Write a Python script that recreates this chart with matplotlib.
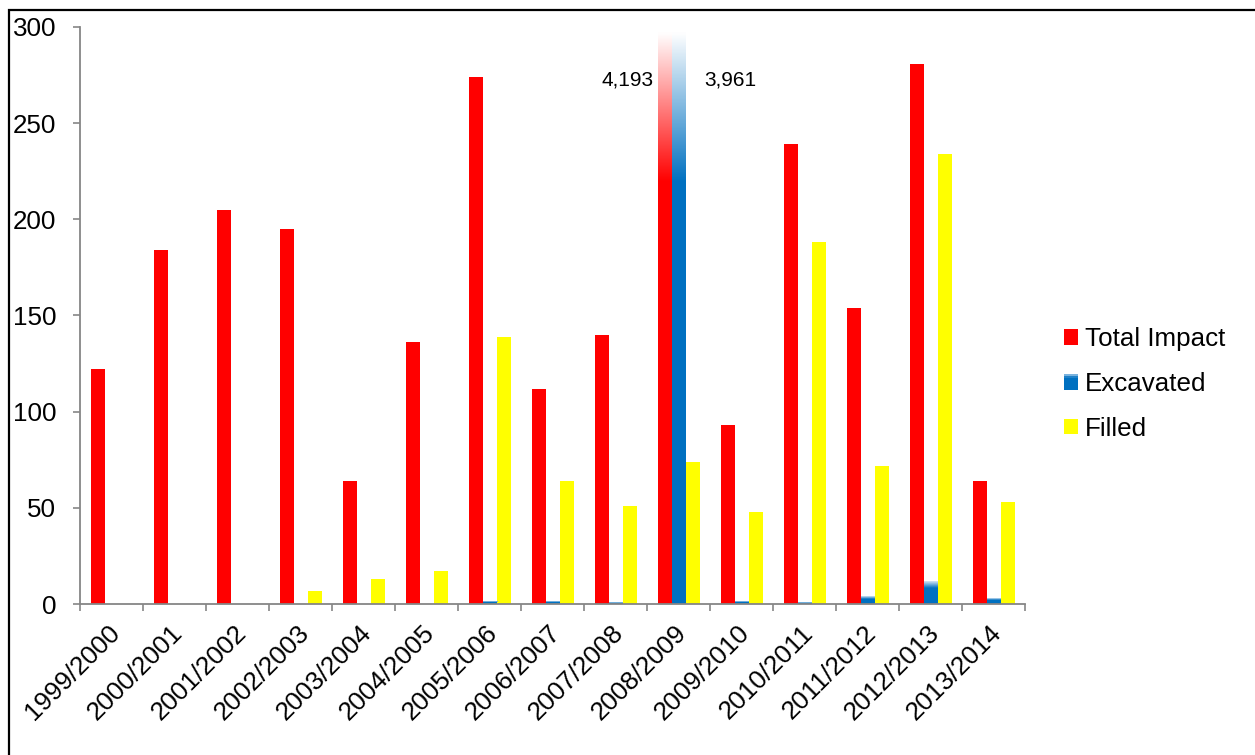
import numpy as np
import matplotlib
matplotlib.use('Agg')
import matplotlib.pyplot as plt
from matplotlib.patches import Rectangle, Patch
from matplotlib.legend_handler import HandlerBase
from matplotlib.colors import to_rgb

# data
categories = ['1999/2000', '2000/2001', '2001/2002', '2002/2003', '2003/2004',
              '2004/2005', '2005/2006', '2006/2007', '2007/2008', '2008/2009',
              '2009/2010', '2010/2011', '2011/2012', '2012/2013', '2013/2014']
total_impact = [122, 184, 205, 195, 64, 136, 274, 112, 140, 4193, 93, 239, 154, 281, 64]
excavated = [0, 0, 0, 0, 0, 0, 1.5, 1.8, 0.5, 3961, 1.5, 0.5, 3.8, 11.2, 3.1]
filled = [0, 0, 0, 7, 13, 17, 139, 64, 51, 74, 48, 188, 72, 234, 53]

red = '#FF0000'
blue = '#0070C0'
blue_light = '#D6E6F4'
yellow = '#FFFF00'
grey = '#868686'

plt.rcParams['font.family'] = ['Liberation Sans', 'DejaVu Sans']

fig = plt.figure(figsize=(12.55, 7.55), dpi=100)
ax = fig.add_axes([80 / 1255, 1 - 604 / 755, (1025 - 80) / 1255, (604 - 27) / 755])

x = np.arange(len(categories))
w = 1 / 4.5
ymax = 300

b_red = ax.bar(x - w, total_impact, w, color=red, zorder=2)
b_blue = ax.bar(x, excavated, w, color=blue, zorder=2)
b_yel = ax.bar(x + w, filled, w, color=yellow, zorder=2)

ax.set_xlim(-0.5, len(categories) - 0.5)
ax.set_ylim(0, ymax)


def vgrad(c_bottom, c_top, n=60):
    cb = np.array(to_rgb(c_bottom))
    ct = np.array(to_rgb(c_top))
    t = np.linspace(0, 1, n)[:, None]
    return (cb * (1 - t) + ct * t)[:, None, :]


# excavated bars fade lighter towards the top
for r in b_blue:
    h = r.get_height()
    if h <= 0 or h > ymax:
        continue
    x0 = r.get_x()
    top_part = 0.28 * h
    ax.imshow(vgrad(blue, blue_light), extent=(x0, x0 + r.get_width(), h - top_part, h),
              origin='lower', aspect='auto', interpolation='bilinear', zorder=3)

# broken bars fade to white at the top of the axis
i_big = int(np.argmax(total_impact))
fade_lo = 219
t = np.linspace(0, 1, 80)
fade = np.zeros((80, 1, 4))
fade[..., :3] = 1
fade[:, 0, 3] = np.clip(t * (ymax + 3 - fade_lo) / (ymax - fade_lo), 0, 1)
xl = b_red[i_big].get_x()
xr = b_blue[i_big].get_x() + b_blue[i_big].get_width()
ax.imshow(fade, extent=(xl, xr, fade_lo, ymax), origin='lower', aspect='auto',
          interpolation='bilinear', zorder=4)
ax.set_xlim(-0.5, len(categories) - 0.5)
ax.set_ylim(0, ymax)

lab_fs = 15
ax.annotate(f'{total_impact[i_big]:,}', xy=(xl, 272.5), xytext=(-4, 0),
            textcoords='offset pixels', ha='right', va='center', fontsize=lab_fs)
ax.annotate(f'{excavated[i_big]:,}', xy=(xr, 272.5), xytext=(19, 0),
            textcoords='offset pixels', ha='left', va='center', fontsize=lab_fs)

# axes styling
for s in ['top', 'right']:
    ax.spines[s].set_visible(False)
for s in ['left', 'bottom']:
    ax.spines[s].set_color(grey)
    ax.spines[s].set_linewidth(1.3)

fs = 18.7
ax.set_yticks(np.arange(0, 301, 50))
ax.tick_params(axis='y', direction='out', length=5, width=1.2, color=grey,
               pad=12, labelsize=fs)
ax.set_xticks(np.arange(-0.5, len(categories), 1))
ax.set_xticklabels([])
ax.tick_params(axis='x', which='major', direction='out', length=5, width=1.2, color=grey)
ax.set_xticks(x - 0.06, minor=True)
ax.set_xticklabels(categories, minor=True, rotation=45, ha='right',
                   rotation_mode='anchor', fontsize=fs)
ax.tick_params(axis='x', which='minor', length=0, pad=12)


class GradHandler(HandlerBase):
    def create_artists(self, legend, orig_handle, xdescent, ydescent, width, height,
                       fontsize, trans):
        arts = []
        n = 8
        cols = vgrad(blue, blue_light, n)[:, 0, :]
        for k in range(n):
            frac = k / n
            c = to_rgb(blue)
            if frac > 0.65:
                c = cols[int((frac - 0.65) / 0.35 * (n - 1))]
            arts.append(Rectangle((-xdescent, -ydescent + height * frac), width, height / n,
                                  facecolor=c, edgecolor='none', transform=trans))
        return arts


handles = [Patch(facecolor=red), Patch(facecolor=blue), Patch(facecolor=yellow)]
leg = fig.legend(handles, ['Total Impact', 'Excavated', 'Filled'],
                 loc='center left', bbox_to_anchor=(1064 / 1255, 1 - 384 / 755),
                 bbox_transform=fig.transFigure, frameon=False, fontsize=fs,
                 handlelength=0.55, handleheight=0.55, handletextpad=0.25,
                 labelspacing=0.8, borderpad=0, borderaxespad=0,
                 handler_map={handles[1]: GradHandler()})

# outer chart border
fig.patches.append(Rectangle((9 / 1255, -0.05), 1.1, 1 - 10 / 755 + 0.05,
                             transform=fig.transFigure, fill=False,
                             edgecolor='black', linewidth=1.6))

fig.savefig('out.png', dpi=100)
